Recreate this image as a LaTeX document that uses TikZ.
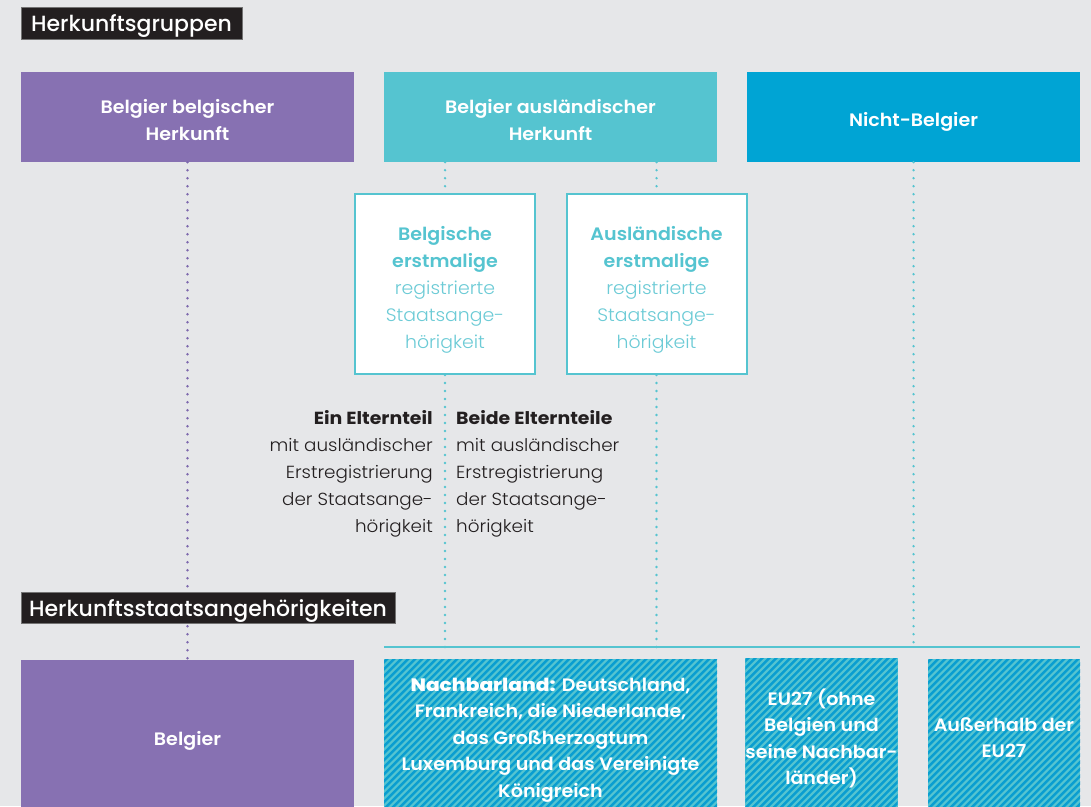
\documentclass[tikz,border=0pt]{standalone}
\usepackage{fontspec}
\setmainfont{Poppins}
\newfontfamily\fmed{Poppins Medium}
\newfontfamily\fsemi{Poppins SemiBold}[FakeStretch=1.06]
\newfontfamily\fbold{Poppins Bold}[FakeStretch=1.08]
\newfontfamily\flight{Poppins Light}[FakeStretch=1.05]
\newfontfamily\fxbold{Poppins ExtraBold}[FakeStretch=1.12]
\usetikzlibrary{calc}
\definecolor{bg}{HTML}{E6E7E9}
\definecolor{purp}{HTML}{8771B2}
\definecolor{purpdot}{HTML}{7E69AE}
\definecolor{teal1}{HTML}{55C4D0}
\definecolor{tealtext}{HTML}{6CCBD6}
\definecolor{blue1}{HTML}{00A4D4}
\definecolor{stripe}{HTML}{0A9ED0}
\definecolor{dark}{HTML}{231F20}
\tikzset{
  titlebox/.style={fill=dark, draw=black!55, line width=0.8, inner sep=0,
    text depth=0pt, text=white, font=\fmed\fontsize{22}{24}\selectfont},
  groupbox/.style={fill=#1, inner sep=0, minimum width=333, minimum height=90},
  grouptext/.style={inner sep=0, text=white, align=center,
    font=\fsemi\fontsize{18}{27}\selectfont},
  subbox/.style={fill=white, draw=teal1, line width=2, inner sep=0,
    minimum width=180, minimum height=180},
  subtext/.style={inner sep=0, text=teal1, align=center,
    font=\fontsize{18}{27}\selectfont},
  nationbox/.style={fill=#1, inner sep=0, minimum height=157,
    text depth=0pt, text=white, align=center, font=\fsemi\fontsize{18}{26.5}\selectfont},
  hatched/.style={nationbox=teal1, path picture={
      \foreach \i in {-170,-163,...,340}
        \draw[stripe, line width=2.5]
          ($(path picture bounding box.south west)+(\i,2)$) -- ++(200,-200);}},
  parenttext/.style={inner sep=0, text=dark, font=\fontsize{17.5}{27}\selectfont},
  dotline/.style={line width=2.6, line cap=round, dash pattern=on 0pt off 8pt},
}
\begin{document}
\begin{tikzpicture}[x=1pt, y=-1pt]
  \useasboundingbox[fill=bg] (0,0) rectangle (1091,806);

  % group boxes
  \node[groupbox=purp]  (g1) at (187.5,117) {};
  \node[groupbox=teal1] (g2) at (550.5,117) {};
  \node[groupbox=blue1] (g3) at (913.5,117) {};
  \node[grouptext] (g1t) at ($(g1.center)+(0,3)$) {Belgier belgischer\\Herkunft};
  \node[grouptext] (g2t) at ($(g2.center)+(0,3)$) {Belgier ausländischer\\Herkunft};
  \node[grouptext] (g3t) at ($(g3.center)+(0,5)$) {Nicht-Belgier};

  % nationality boxes
  \node[nationbox=purp, minimum width=333] (b1) at (187.5,738.5) {Belgier};
  \node[hatched, minimum width=333] (b2) at (550.5,737.5)
    {{\fxbold Nachbarland:} Deutschland,\\Frankreich, die Niederlande,\\das Großherzogtum\\Luxemburg und das Vereinigte\\Königreich};
  \node[hatched, minimum width=151] (b3) at (821.5,736.5)
    {EU27 (ohne\\Belgien und\\seine Nachbar-\\länder)};
  \node[hatched, minimum width=152] (b4) at (1004,737.5)
    {Außerhalb der\\EU27};

  % horizontal rule above the foreign nationalities
  \coordinate (hl) at (384,647);
  \coordinate (hr) at (1080,647);
  \draw[teal1, line width=2] (hl) -- (hr);

  % first registered nationality boxes
  \node[subbox] (sA) at (445,284) {};
  \node[subbox] (sB) at (656.5,284) {};
  \node[subtext] (sAt) at ($(sA.center)+(0,6)$)
    {{\fsemi Belgische}\\{\fsemi erstmalige}\\{\flight\color{tealtext}registrierte}\\{\flight\color{tealtext}Staatsange-}\\{\flight\color{tealtext}hörigkeit}};
  \node[subtext] (sBt) at ($(sB.center)+(0,6)$)
    {{\fsemi Ausländische}\\{\fsemi erstmalige}\\{\flight\color{tealtext}registrierte}\\{\flight\color{tealtext}Staatsange-}\\{\flight\color{tealtext}hörigkeit}};

  % dotted connectors
  \draw[dotline, purpdot] (g1.south) -- (b1.north);
  \draw[dotline, teal1] (g2.south -| sA.north) -- (sA.north);
  \draw[dotline, teal1] (g2.south -| sB.north) -- (sB.north);
  \draw[dotline, teal1] (sA.south) -- (sA.south |- hl);
  \draw[dotline, teal1] (sB.south) -- (sB.south |- hl);
  \draw[dotline, teal1] (g3.south) -- (g3.south |- hl);

  % parent texts
  \node[parenttext, anchor=east, align=right] (e1) at (433,474)
    {{\fbold Ein Elternteil}\\{\flight mit ausländischer}\\{\flight Erstregistrierung}\\{\flight der Staatsange-}\\{\flight hörigkeit}};
  \node[parenttext, anchor=west, align=left] (e2) at (456,474)
    {{\fbold Beide Elternteile}\\{\flight mit ausländischer}\\{\flight Erstregistrierung}\\{\flight der Staatsange-}\\{\flight hörigkeit}};

  % section titles
  \node[titlebox, minimum width=221, minimum height=32] (t1) at (131.5,23) {Herkunftsgruppen};
  \node[titlebox, minimum width=374, minimum height=31] (t2) at (208,607.5) {Herkunftsstaatsangehörigkeiten};
\end{tikzpicture}
\end{document}
